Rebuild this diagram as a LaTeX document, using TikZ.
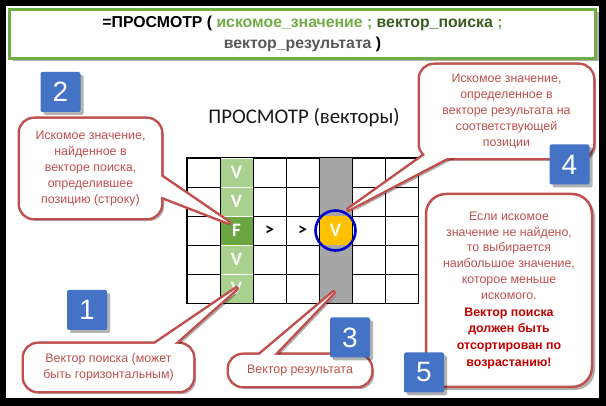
\documentclass[tikz,border=0pt]{standalone}
\usepackage{fontspec}
\setmainfont{Liberation Sans}
\newfontfamily\calib{Carlito}
\usetikzlibrary{shadows}
\definecolor{cFrm}{HTML}{70AD47}
\definecolor{cKey}{HTML}{70AD47}
\definecolor{cVec}{HTML}{3A5D22}
\definecolor{cRes}{HTML}{595959}
\definecolor{cRed}{HTML}{C0504D}
\definecolor{cRedB}{HTML}{C00000}
\definecolor{cNum}{HTML}{4472C4}
\definecolor{cLt}{HTML}{A9D08E}
\definecolor{cF}{HTML}{6AA542}
\definecolor{cGr}{HTML}{A6A6A6}
\definecolor{cHit}{HTML}{FFC000}
\definecolor{cRing}{HTML}{0000CC}
\tikzset{
  shd/.style={drop shadow={shadow xshift=3pt, shadow yshift=-3pt, opacity=.3, fill=black}},
  frm/.style={draw=cFrm, line width=3pt, fill=white, minimum width=586pt, minimum height=49pt, align=center, font=\bfseries\fontsize{15.8}{21}\selectfont, shd},
  cell/.style={draw=black, line width=0.8pt, minimum width=33pt, minimum height=29pt, inner sep=0pt},
  vcell/.style={cell, draw=white, fill=cLt, text=white, font=\calib\bfseries\fontsize{19}{19}\selectfont},
  fcell/.style={vcell, fill=cF},
  rcell/.style={cell, draw=none, fill=cGr},
  hcell/.style={vcell, draw=none, fill=cHit},
  gt/.style={font=\calib\bfseries\fontsize{18}{18}\selectfont, inner sep=0pt},
  ring/.style={circle, draw=cRing, line width=2.6pt, minimum size=40pt, inner sep=0pt},
  bbox/.style={inner sep=0pt, outer sep=0pt},
  bubline/.style={draw=cRed, line width=5pt, line join=round, rounded corners=14pt, shd},
  bubfill/.style={fill=white, rounded corners=14pt},
  btext/.style={text=cRed, font=\fontsize{12.4}{15.8}\selectfont, align=center, inner sep=0pt},
  numsq/.style={fill=cNum, rounded corners=2pt, minimum size=40pt, inner sep=0pt, text=white, font=\fontsize{28}{28}\selectfont, shd},
}

\begin{document}
\begin{tikzpicture}[x=1pt,y=-1pt]
\useasboundingbox (0,0) rectangle (606,406);
\fill[black] (0,0) rectangle (606,406);
\fill[white] (6,6) rectangle (599,398);

% ---------------- formula
\node[frm] (frm) at (302.5,34) {=ПРОСМОТР ( \textcolor{cKey}{искомое\_значение ;} \textcolor{cVec}{вектор\_поиска} \textcolor{cKey}{;}\\\textcolor{cRes}{вектор\_результата} )};
\node[font=\calib\fontsize{20.8}{24}\selectfont, text=black!90] (ttl) at (304,118) {ПРОСМОТР (векторы)};

% ---------------- grid
\foreach \j in {1,2,4,5}{
  \node[vcell] (c-2-\j) at ({187+33*1.5},{158+29*(\j-.5)}) {V};
  \node[rcell] (c-5-\j) at ({187+33*4.5},{158+29*(\j-.5)}) {};
}
\node[fcell] (c-2-3) at ({187+33*1.5},{158+29*2.5}) {F};
\node[hcell] (c-5-3) at ({187+33*4.5},{158+29*2.5}) {V};
\foreach \i in {1,3,4,6,7}{\foreach \j in {1,...,5}{
  \node[cell] (c-\i-\j) at ({187+33*(\i-.5)},{158+29*(\j-.5)}) {};
}}
\draw[line width=0.8pt] (c-1-1.north west) rectangle (c-7-5.south east);
\node[gt] (g1) at (c-3-3) {>};
\node[gt] (g2) at (c-4-3) {>};
\node[ring] (ring) at (c-5-3) {};

% ---------------- callouts
\node[bbox, minimum width=141pt, minimum height=99pt] (b2) at (90.5,168.5) {};
\draw[bubline] (b2.north west) rectangle (b2.south east);
\draw[bubline, sharp corners] ([shift={(-10,1)}]b2.east) -- ([shift={(-8,-8)}]c-2-3.center) -- ([shift={(-10,24)}]b2.east) -- cycle;
\fill[bubfill] (b2.north west) rectangle (b2.south east);
\fill[white] ([shift={(-10,1)}]b2.east) -- ([shift={(-8,-8)}]c-2-3.center) -- ([shift={(-10,24)}]b2.east) -- cycle;
\node[btext] (t2) at (b2) {Искомое значение,\\найденное в\\векторе поиска,\\определившее\\позицию (строку)};

\node[bbox, minimum width=173pt, minimum height=93pt] (b4) at (506.5,111.5) {};
\draw[bubline] (b4.north west) rectangle (b4.south east);
\draw[bubline, sharp corners] ([shift={(12,-8)}]b4.south west) -- ([shift={(-2,-6)}]ring.north east) -- ([shift={(42,-8)}]b4.south west) -- cycle;
\fill[bubfill] (b4.north west) rectangle (b4.south east);
\fill[white] ([shift={(12,-8)}]b4.south west) -- ([shift={(-2,-6)}]ring.north east) -- ([shift={(42,-8)}]b4.south west) -- cycle;
\node[btext] (t4) at (b4) {Искомое значение,\\определенное в\\векторе результата на\\соответствующей\\позиции};

\node[bbox, minimum width=169pt, minimum height=47pt] (b1) at (108.5,367.5) {};
\draw[bubline] (b1.north west) rectangle (b1.south east);
\draw[bubline, sharp corners] ([shift={(119,8)}]b1.north west) -- (c-2-5.center) -- ([shift={(141,8)}]b1.north west) -- cycle;
\fill[bubfill] (b1.north west) rectangle (b1.south east);
\fill[white] ([shift={(119,8)}]b1.north west) -- (c-2-5.center) -- ([shift={(141,8)}]b1.north west) -- cycle;
\node[btext] (t1) at (b1) {Вектор поиска (может\\быть горизонтальным)};

\node[bbox, minimum width=142pt, minimum height=31pt] (b3) at (300,370.5) {};
\draw[bubline] (b3.north west) rectangle (b3.south east);
\draw[bubline, sharp corners] ([shift={(21,8)}]b3.north west) -- ([shift={(-2,4)}]c-5-5.center) -- ([shift={(37,8)}]b3.north west) -- cycle;
\fill[bubfill] (b3.north west) rectangle (b3.south east);
\fill[white] ([shift={(21,8)}]b3.north west) -- ([shift={(-2,4)}]c-5-5.center) -- ([shift={(37,8)}]b3.north west) -- cycle;
\node[btext] (t3) at (b3) {Вектор результата};

\node[btext, draw=cRed, line width=2.5pt, fill=white, rounded corners=20pt, minimum width=166pt, minimum height=193pt, shd] (b5) at (509,290.5) {Если искомое\\значение не найдено,\\то выбирается\\наибольшое значение,\\которое меньше\\искомого.\\[1pt]\textcolor{cRedB}{\bfseries Вектор поиска}\\[1pt]\textcolor{cRedB}{\bfseries должен быть}\\[1pt]\textcolor{cRedB}{\bfseries отсортирован по}\\[1pt]\textcolor{cRedB}{\bfseries возрастанию!}};

% ---------------- numbers
\node[numsq] (n1) at (87,310) {1};
\node[numsq] (n2) at (60.5,92) {2};
\node[numsq] (n3) at (350,337.5) {3};
\node[numsq] (n4) at (569.5,164.5) {4};
\node[numsq] (n5) at (424,372.5) {5};
\end{tikzpicture}
\end{document}
